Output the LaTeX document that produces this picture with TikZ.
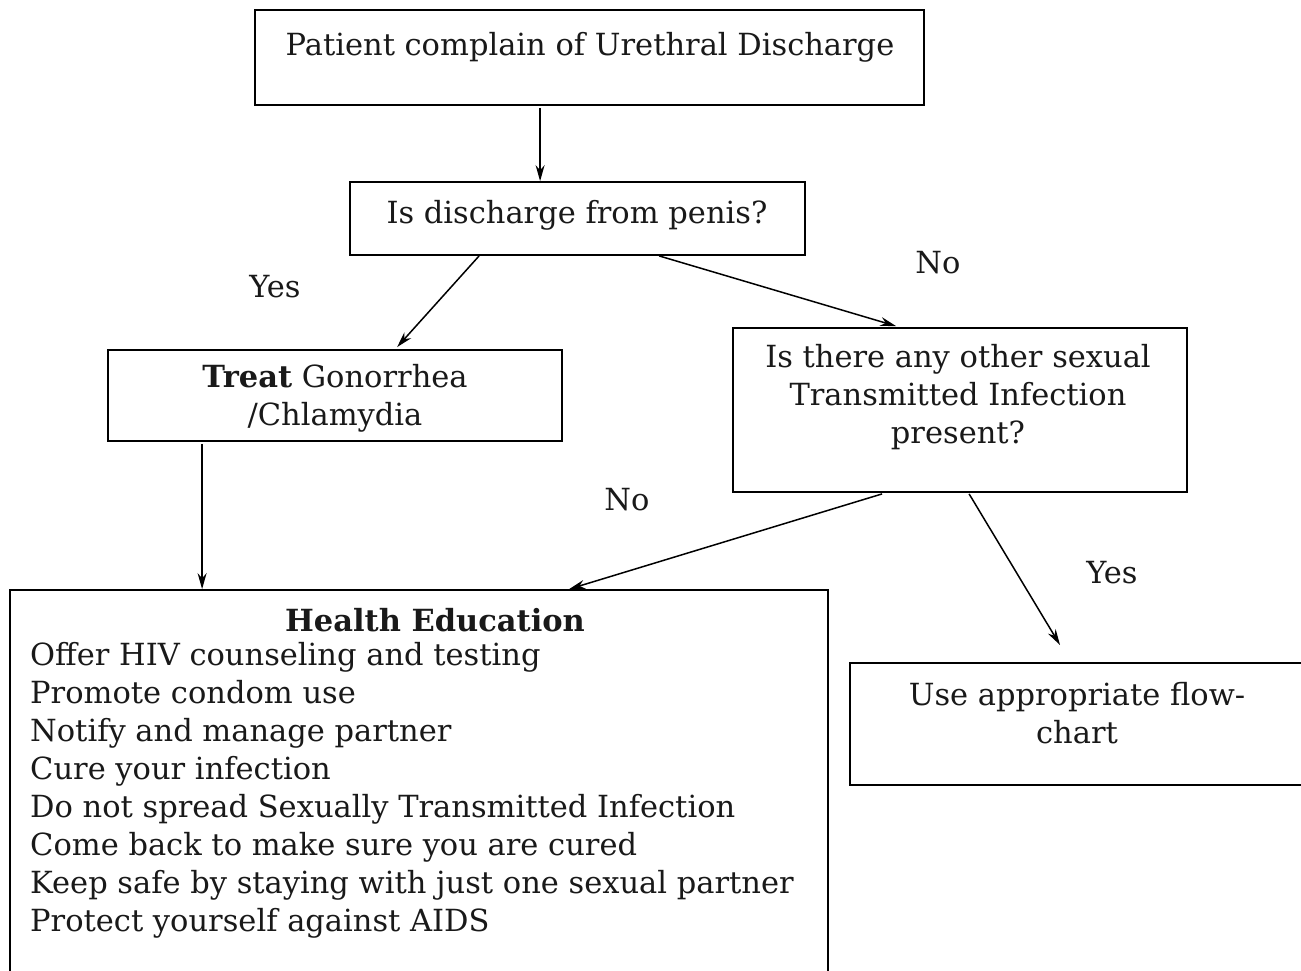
\documentclass[tikz,border=0pt]{standalone}
\usepackage{fontspec}
\setmainfont{DejaVu Serif}
\usetikzlibrary{arrows.meta,calc}
\tikzset{
  box/.style={draw=black, line width=1.8pt, rectangle, inner sep=0pt},
  txt/.style={font=\fontsize{30.5}{38}\selectfont, inner sep=0pt, align=center, text=black!90},
  arr/.style={line width=1.5pt, -{Stealth[length=16pt,width=9pt]}},
}
\begin{document}
\begin{tikzpicture}[x=1pt,y=-1pt]
\useasboundingbox (0,0) rectangle (1301,971);
\clip (0,0) rectangle (1301,971);
% boxes
\node[box, minimum width=669pt, minimum height=95pt] (b1) at (589.5,57.5) {};
\node[box, minimum width=455pt, minimum height=73pt] (b2) at (577.5,218.5) {};
\node[box, minimum width=454pt, minimum height=91pt] (treat) at (335,395.5) {};
\node[box, minimum width=454pt, minimum height=164pt] (sti) at (960,410) {};
\node[box, minimum width=818pt, minimum height=400pt] (he) at (419,790) {};
\node[box, minimum width=460pt, minimum height=122pt] (flow) at (1080,724) {};
% texts
\node[txt] (t1) at (590,47) {Patient complain of Urethral Discharge};
\node[txt] (t2) at (577,215) {Is discharge from penis?};
\node[txt] (t3) at (335,398) {\textbf{Treat} Gonorrhea\\ /Chlamydia};
\node[txt] (t4) at (958,397) {Is there any other sexual\\ Transmitted Infection\\ present?};
\node[txt] (t5) at (1077,713) {Use appropriate flow-\\ chart};
\node[txt] (heT) at (435,620) {\textbf{Health Education}};
\node[txt, align=left, anchor=west] (heL) at (30,790) {Offer HIV counseling and testing\\
Promote condom use\\
Notify and manage partner\\
Cure your infection\\
Do not spread Sexually Transmitted Infection\\
Come back to make sure you are cured\\
Keep safe by staying with just one sexual partner\\
Protect yourself against AIDS};
% labels
\node[txt] (yes1) at (275,287) {Yes};
\node[txt] (no1) at (938,263) {No};
\node[txt] (no2) at (627,500) {No};
\node[txt] (yes2) at (1112,573) {Yes};
% connectors
\coordinate (end6) at (1060,645);
\draw[arr] ($(b1.south west)+(286,2)$) -- ($(b2.north west)+(191,0)$);
\draw[arr] ($(b2.south west)+(130,0)$) -- ($(treat.north west)+(290,-2)$);
\draw[arr] ($(b2.south west)+(310,0)$) -- ($(sti.north west)+(164,-1)$);
\draw[arr] ($(treat.south west)+(95,2)$) -- ($(he.north west)+(193,0)$);
\draw[arr] ($(sti.south west)+(150,1)$) -- ($(he.north west)+(560,0)$);
\draw[arr] ($(sti.south west)+(237,1)$) -- (end6);
\end{tikzpicture}
\end{document}
